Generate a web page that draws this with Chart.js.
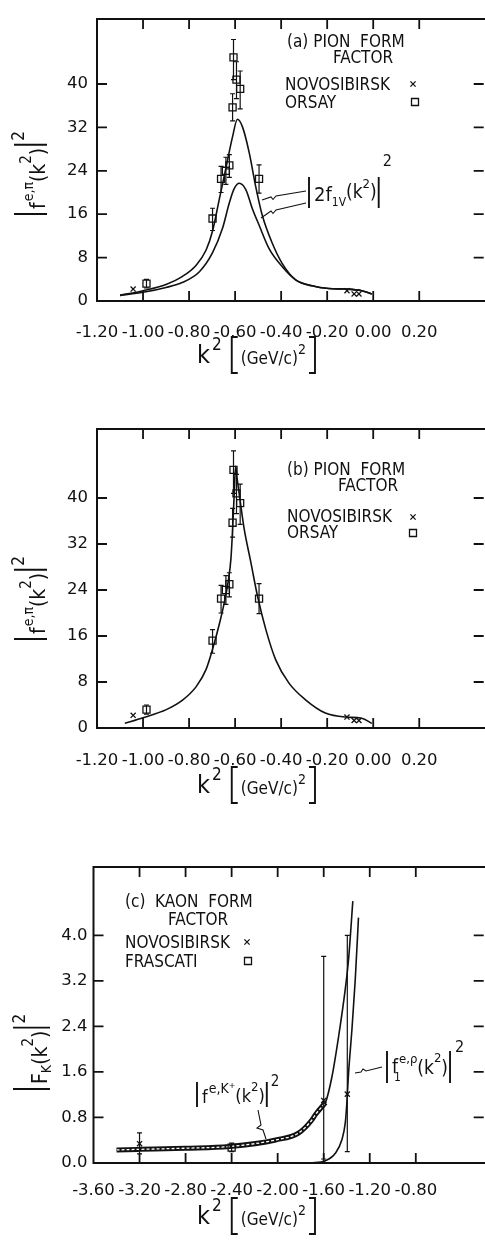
<!DOCTYPE html>
<html><head><meta charset="utf-8">
<script src="https://cdn.jsdelivr.net/npm/chart.js@4/dist/chart.umd.min.js"></script>
<style>
html,body{margin:0;padding:0;background:#fff;overflow:hidden;width:485px;height:1243px;position:relative;}
canvas{position:absolute;left:0;}
</style></head><body>
<canvas id="ca" width="490" height="400" style="top:0px"></canvas>
<canvas id="cb" width="490" height="410" style="top:400px"></canvas>
<canvas id="cc" width="490" height="433" style="top:810px"></canvas>
<script>
// ---------- tick labels ----------
const pionTicksX = [-1.2, -1.0, -0.8, -0.6, -0.4, -0.2, 0.0, 0.2];
const pionTicksY = [0, 8, 16, 24, 32, 40];
const kaonTicksX = [-3.6, -3.2, -2.8, -2.4, -2.0, -1.6, -1.2, -0.8];
const kaonTicksY = [0, 0.8, 1.6, 2.4, 3.2, 4.0];

// ---------- pion data (panels a, b) ----------
const orsayX  = [-0.985, -0.698, -0.661, -0.640, -0.625, -0.611, -0.607, -0.594, -0.578, -0.496];
const orsayY  = [3.2, 15.2, 22.5, 24.0, 25.0, 35.7, 44.9, 40.8, 39.1, 22.5];
const orsayLo = [2.4, 13.0, 20.0, 21.5, 22.8, 33.2, 40.8, 37.3, 35.4, 19.9];
const orsayHi = [4.0, 17.1, 24.8, 26.5, 27.0, 38.2, 48.2, 44.1, 42.4, 25.1];
const novoPionX = [-1.043, -0.114, -0.083, -0.062];
const novoPionY = [2.2, 1.9, 1.3, 1.3];

// panel (a): two curves |2 f_1V(k^2)|^2
const pionUpperX = [-1.10, -1.00, -0.90, -0.83, -0.77, -0.726, -0.698, -0.669, -0.640, -0.611, -0.590, -0.568, -0.539, -0.510, -0.482, -0.438, -0.395, -0.337, -0.266, -0.194, -0.121, -0.050, -0.006];
const pionUpperY = [1.04, 1.9, 3.05, 4.5, 6.55, 9.4, 12.9, 18.7, 24.5, 30.3, 33.5, 32.1, 27.4, 21.0, 15.8, 10.6, 6.9, 3.9, 2.8, 2.3, 2.2, 1.9, 1.3];
const pionLowerX = [-1.10, -1.00, -0.90, -0.83, -0.755, -0.698, -0.654, -0.625, -0.604, -0.582, -0.553, -0.525, -0.496, -0.453, -0.395, -0.337, -0.266, -0.194, -0.121, -0.050, -0.006];
const pionLowerY = [1.04, 1.6, 2.5, 3.4, 5.4, 8.9, 13.5, 18.1, 20.7, 21.7, 20.5, 17.0, 14.0, 9.7, 6.3, 3.9, 2.8, 2.3, 2.2, 1.9, 1.3];

// panel (b): single fitted curve
const pionFitX = [-1.079, -1.00, -0.899, -0.827, -0.769, -0.726, -0.698, -0.669, -0.647, -0.630, -0.618, -0.611, -0.604, -0.598, -0.590, -0.578, -0.561, -0.532, -0.503, -0.467, -0.424, -0.366, -0.294, -0.208, -0.121, -0.050, -0.006];
const pionFitY = [0.82, 1.8, 3.2, 4.9, 7.2, 10.2, 13.7, 18.0, 21.8, 25.5, 29.5, 34.5, 40.6, 45.5, 43.0, 39.5, 34.7, 28.9, 23.0, 17.2, 11.9, 7.8, 4.9, 2.6, 1.9, 1.7, 0.8];

// ---------- kaon data (panel c) ----------
const novoKaonX  = [-3.20, -1.60, -1.395];
const novoKaonY  = [0.34, 1.10, 1.21];
const novoKaonLo = [0.16, 0.07, 0.20];
const novoKaonHi = [0.53, 3.63, 4.00];
const frascatiX  = [-2.40];
const frascatiY  = [0.27];
const frascatiLo = [0.20];
const frascatiHi = [0.35];
const kaonCurveX = [-3.40, -3.20, -2.80, -2.42, -2.017, -1.816, -1.701, -1.672, -1.585, -1.528, -1.470, -1.413, -1.384, -1.347];
const kaonCurveY = [0.23, 0.24, 0.26, 0.29, 0.405, 0.53, 0.76, 0.85, 1.06, 1.52, 2.23, 3.05, 3.58, 4.6];
const rhoCurveX  = [-2.00, -1.80, -1.701, -1.585, -1.499, -1.442, -1.413, -1.399, -1.384, -1.355, -1.326, -1.298];
const rhoCurveY  = [0.0, 0.0, 0.005, 0.04, 0.17, 0.41, 0.70, 1.05, 1.58, 2.34, 3.22, 4.31];

// ---------- helpers ----------
const FONT = '"DejaVu Sans Condensed", "DejaVu Sans", sans-serif';
const TICKFONT = '"DejaVu Sans", sans-serif';
const INK = '#111';
const zip = (xs, ys) => xs.map((x, i) => ({x: x, y: ys[i]}));
const fmt = d => v => (Math.abs(v) < 1e-9 ? 0 : v).toFixed(d);

function rich(ctx, x0, y0, segs){
  let x = x0;
  ctx.textBaseline = 'alphabetic'; ctx.textAlign = 'left';
  ctx.fillStyle = INK; ctx.strokeStyle = INK;
  for (const g of segs){
    if (g.gap !== undefined){ x += g.gap; continue; }
    if (g.bar){
      ctx.beginPath(); ctx.lineWidth = g.w || 1.9;
      ctx.moveTo(x + 1, y0 + g.top); ctx.lineTo(x + 1, y0 + g.bot); ctx.stroke();
      x += g.adv || 5; continue;
    }
    if (g.br){
      const w = 6; ctx.beginPath(); ctx.lineWidth = 1.9;
      if (g.br === '['){
        ctx.moveTo(x + 1 + w, y0 + g.top); ctx.lineTo(x + 1, y0 + g.top);
        ctx.lineTo(x + 1, y0 + g.bot); ctx.lineTo(x + 1 + w, y0 + g.bot);
      } else {
        ctx.moveTo(x, y0 + g.top); ctx.lineTo(x + w, y0 + g.top);
        ctx.lineTo(x + w, y0 + g.bot); ctx.lineTo(x, y0 + g.bot);
      }
      ctx.stroke(); x += w + 4; continue;
    }
    ctx.font = g.s + 'px ' + FONT;
    ctx.fillText(g.t, x, y0 + (g.dy || 0));
    if (!g.stay) x += ctx.measureText(g.t).width;
  }
}

function marker(ctx, style, x, y){
  ctx.save(); ctx.strokeStyle = INK; ctx.lineWidth = 1.3; ctx.beginPath();
  if (style === 'x'){
    const r = 2.6;
    ctx.moveTo(x - r, y - r); ctx.lineTo(x + r, y + r);
    ctx.moveTo(x + r, y - r); ctx.lineTo(x - r, y + r);
  } else {
    ctx.rect(x - 3.5, y - 3.5, 7, 7);
  }
  ctx.stroke(); ctx.restore();
}

const kTitle = [{t:'k', s:25}, {gap:2}, {t:'2', s:17, dy:-13}, {gap:9}, {br:'[', top:-26, bot:10},
                {t:'(GeV/c)', s:17, dy:1}, {t:'2', s:14, dy:-9}, {gap:3}, {br:']', top:-26, bot:10}];
const pionYTitle = [{bar:true, top:-31, bot:2, adv:6}, {t:'f', s:21}, {gap:1}, {t:'e,\u03c0', s:14, dy:-12},
                    {t:'(k', s:21}, {t:'2', s:15, dy:-14}, {t:')', s:21}, {gap:2},
                    {bar:true, top:-31, bot:2, adv:5}, {t:'2', s:17, dy:-21}];

const LEG = 17;
const DECO = {
  ca: {
    oy: 0,
    err: [{xs: orsayX, lo: orsayLo, hi: orsayHi}],
    texts: [
      {x:287, y:47, segs:[{t:'(a) PION  FORM', s:LEG}]},
      {x:333, y:63, segs:[{t:'FACTOR', s:LEG}]},
      {x:285, y:90, segs:[{t:'NOVOSIBIRSK', s:LEG}]},
      {x:285, y:108, segs:[{t:'ORSAY', s:LEG}]},
      {x:308, y:201, segs:[{bar:true, top:-24, bot:7, adv:6}, {t:'2f', s:20}, {t:'1V', s:12, dy:5},
                           {t:'(k', s:19, dy:-3}, {t:'2', s:13, dy:-13}, {t:')', s:19, dy:-3}, {gap:1},
                           {bar:true, top:-24, bot:7, adv:5}, {t:'2', s:16, dy:-35}]},
      {x:197, y:363, segs:kTitle},
      {x:45, y:215, rot:true, segs:pionYTitle}
    ],
    marks: [['x', 413, 84], ['s', 415, 102]],
    lines: [
      [[306,191],[276,196],[273,199.5],[271,197],[262,200]],
      [[306,203],[276,210],[273,213.5],[271,211],[261,218]]
    ]
  },
  cb: {
    oy: 400,
    err: [{xs: orsayX, lo: orsayLo, hi: orsayHi}],
    texts: [
      {x:287, y:475, segs:[{t:'(b) PION  FORM', s:LEG}]},
      {x:338, y:491, segs:[{t:'FACTOR', s:LEG}]},
      {x:287, y:522, segs:[{t:'NOVOSIBIRSK', s:LEG}]},
      {x:287, y:538, segs:[{t:'ORSAY', s:LEG}]},
      {x:197, y:793, segs:kTitle},
      {x:45, y:640, rot:true, segs:pionYTitle}
    ],
    marks: [['x', 413, 517], ['s', 413, 533]],
    lines: []
  },
  cc: {
    oy: 810,
    err: [{xs: novoKaonX, lo: novoKaonLo, hi: novoKaonHi}, {xs: frascatiX, lo: frascatiLo, hi: frascatiHi}],
    texts: [
      {x:125, y:907, segs:[{t:'(c)  KAON  FORM', s:LEG}]},
      {x:168, y:925, segs:[{t:'FACTOR', s:LEG}]},
      {x:125, y:948, segs:[{t:'NOVOSIBIRSK', s:LEG}]},
      {x:125, y:967, segs:[{t:'FRASCATI', s:LEG}]},
      {x:196, y:1103, segs:[{bar:true, top:-21, bot:4, adv:6}, {t:'f', s:18}, {gap:1}, {t:'e,K\u207a', s:14, dy:-10},
                            {t:'(k', s:18, dy:-1}, {t:'2', s:13, dy:-12}, {t:')', s:18, dy:-1}, {gap:1},
                            {bar:true, top:-21, bot:4, adv:5}, {t:'2', s:15, dy:-17}]},
      {x:386, y:1073, segs:[{bar:true, top:-22, bot:10, adv:6}, {t:'f', s:19}, {gap:-4}, {t:'1', s:12, dy:8, stay:true},
                            {gap:5}, {t:'e,\u03c1', s:13, dy:-10}, {t:'(k', s:19, dy:1}, {t:'2', s:13, dy:-11},
                            {t:')', s:19, dy:1}, {gap:1}, {bar:true, top:-22, bot:10, adv:6}, {t:'2', s:16, dy:-21}]},
      {x:197, y:1224, segs:kTitle},
      {x:47, y:1090, rot:true, segs:[{bar:true, top:-34, bot:3, adv:6}, {t:'F', s:21}, {t:'K', s:14, dy:4},
                            {t:'(k', s:21}, {t:'2', s:15, dy:-14}, {t:')', s:21}, {gap:2},
                            {bar:true, top:-34, bot:3, adv:5}, {t:'2', s:17, dy:-22}]}
    ],
    marks: [['x', 247, 942], ['s', 248, 961]],
    lines: [
      [[258,1110],[261,1125],[257,1128],[263,1130],[266,1139]],
      [[382,1067],[366,1071],[363,1069],[361,1072],[355,1073]]
    ]
  }
};

const decoPlugin = {
  id: 'deco',
  afterDatasetsDraw(chart){
    const d = DECO[chart.canvas.id]; if (!d) return;
    const ctx = chart.ctx, a = chart.chartArea, sx = chart.scales.x, sy = chart.scales.y;
    ctx.save();
    ctx.strokeStyle = INK; ctx.fillStyle = INK;
    // frame: left, top, bottom (the right edge lies at the picture's border)
    ctx.lineWidth = 2; ctx.beginPath();
    ctx.moveTo(a.right + 4, a.top); ctx.lineTo(a.left, a.top); ctx.lineTo(a.left, a.bottom); ctx.lineTo(a.right + 4, a.bottom);
    ctx.stroke();
    ctx.lineWidth = 1.8; ctx.beginPath();
    for (const t of sx.ticks){
      const p = sx.getPixelForValue(t.value);
      if (p <= a.left + 1 || p >= a.right - 1) continue;
      ctx.moveTo(p, a.bottom); ctx.lineTo(p, a.bottom - 10);
      ctx.moveTo(p, a.top); ctx.lineTo(p, a.top + 10);
    }
    for (const t of sy.ticks){
      const p = sy.getPixelForValue(t.value);
      if (p >= a.bottom - 1 || p <= a.top + 1) continue;
      ctx.moveTo(a.left, p); ctx.lineTo(a.left + 10, p);
      ctx.moveTo(a.right, p); ctx.lineTo(a.right - 10, p);
    }
    ctx.stroke();
    ctx.lineWidth = 1.2; ctx.beginPath();
    for (const e of d.err){
      e.xs.forEach((xv, i) => {
        const px = sx.getPixelForValue(xv), p1 = sy.getPixelForValue(e.lo[i]), p2 = sy.getPixelForValue(e.hi[i]);
        ctx.moveTo(px, p1); ctx.lineTo(px, p2);
        ctx.moveTo(px - 2.5, p1); ctx.lineTo(px + 2.5, p1);
        ctx.moveTo(px - 2.5, p2); ctx.lineTo(px + 2.5, p2);
      });
    }
    ctx.stroke();
    ctx.restore();
    ctx.save();
    for (const t of d.texts){
      ctx.save();
      if (t.rot){ ctx.translate(t.x, t.y - d.oy); ctx.rotate(-Math.PI / 2); rich(ctx, 0, 0, t.segs); }
      else rich(ctx, t.x, t.y - d.oy, t.segs);
      ctx.restore();
    }
    for (const m of d.marks) marker(ctx, m[0], m[1], m[2] - d.oy);
    ctx.strokeStyle = INK; ctx.lineWidth = 1.1;
    for (const l of d.lines){
      ctx.beginPath();
      l.forEach((p, i) => i ? ctx.lineTo(p[0], p[1] - d.oy) : ctx.moveTo(p[0], p[1] - d.oy));
      ctx.stroke();
    }
    ctx.restore();
  }
};

function curve(xs, ys, extra){
  return Object.assign({data: zip(xs, ys), showLine: true, borderColor: INK, borderWidth: 1.6,
    pointRadius: 0, cubicInterpolationMode: 'monotone', fill: false}, extra || {});
}
function pts(xs, ys, style, r){
  return {data: zip(xs, ys), showLine: false, pointStyle: style, pointRadius: r, borderColor: INK,
    borderWidth: 1.3, backgroundColor: 'rgba(0,0,0,0)', order: -1};
}

function makeChart(id, c){
  return new Chart(document.getElementById(id), {
    type: 'scatter',
    data: {datasets: c.datasets},
    options: {
      responsive: false, animation: false, events: [],
      layout: {padding: {top: c.top, right: 4, left: 0, bottom: 0}},
      plugins: {legend: {display: false}, tooltip: {enabled: false}},
      scales: {
        x: {type: 'linear', min: c.xmin, max: c.xmax, grid: {display: false, drawTicks: false}, border: {display: false},
            afterFit: s => { s.height = c.xh; },
            afterBuildTicks: s => { s.ticks = c.xticks.map(v => ({value: v})); },
            ticks: {autoSkip: false, maxRotation: 0, minRotation: 0, padding: c.xpad, color: INK,
                    font: {family: TICKFONT, size: 16.5}, callback: fmt(2)}},
        y: {type: 'linear', min: c.ymin, max: c.ymax, grid: {display: false, drawTicks: false}, border: {display: false},
            afterFit: s => { s.width = c.yw; },
            afterBuildTicks: s => { s.ticks = c.yticks.map(v => ({value: v})); },
            ticks: {autoSkip: false, padding: c.ypad, color: INK, font: {family: TICKFONT, size: 16.5},
                    callback: c.yfmt}}
      }
    },
    plugins: [decoPlugin]
  });
}

// panel (a)
makeChart('ca', {
  top: 3, xh: 99, yw: 97, xmin: -1.2, xmax: 0.48, ymin: 0, ymax: 52,
  xticks: pionTicksX, yticks: pionTicksY, xpad: 22, ypad: 9, yfmt: v => String(v),
  datasets: [
    curve(pionUpperX, pionUpperY), curve(pionLowerX, pionLowerY),
    pts(orsayX, orsayY, 'rect', 5), pts(novoPionX, novoPionY, 'crossRot', 3.6)
  ]
});
// panel (b)
makeChart('cb', {
  top: 29, xh: 82, yw: 97, xmin: -1.2, xmax: 0.48, ymin: 0, ymax: 52,
  xticks: pionTicksX, yticks: pionTicksY, xpad: 23, ypad: 9, yfmt: v => String(v),
  datasets: [
    curve(pionFitX, pionFitY),
    pts(orsayX, orsayY, 'rect', 5), pts(novoPionX, novoPionY, 'crossRot', 3.6)
  ]
});
// panel (c)
const bandIdx = kaonCurveX.map((x, i) => i).filter(i => kaonCurveX[i] <= -1.58);
const bandX = bandIdx.map(i => kaonCurveX[i]), bandY = bandIdx.map(i => kaonCurveY[i]);
makeChart('cc', {
  top: 57, xh: 80, yw: 93.5, xmin: -3.6, xmax: -0.21, ymin: 0, ymax: 5.2,
  xticks: kaonTicksX, yticks: kaonTicksY, xpad: 18, ypad: 6, yfmt: fmt(1),
  datasets: [
    curve(bandX, bandY, {borderDash: [3, 2], borderColor: '#fff', borderWidth: 1.3, order: 1}),
    curve(bandX, bandY, {borderWidth: 5, order: 2}),
    curve(kaonCurveX, kaonCurveY, {order: 3}),
    curve(rhoCurveX, rhoCurveY, {order: 3}),
    pts(novoKaonX, novoKaonY, 'crossRot', 3.6), pts(frascatiX, frascatiY, 'rect', 5)
  ]
});
</script>
</body></html>
